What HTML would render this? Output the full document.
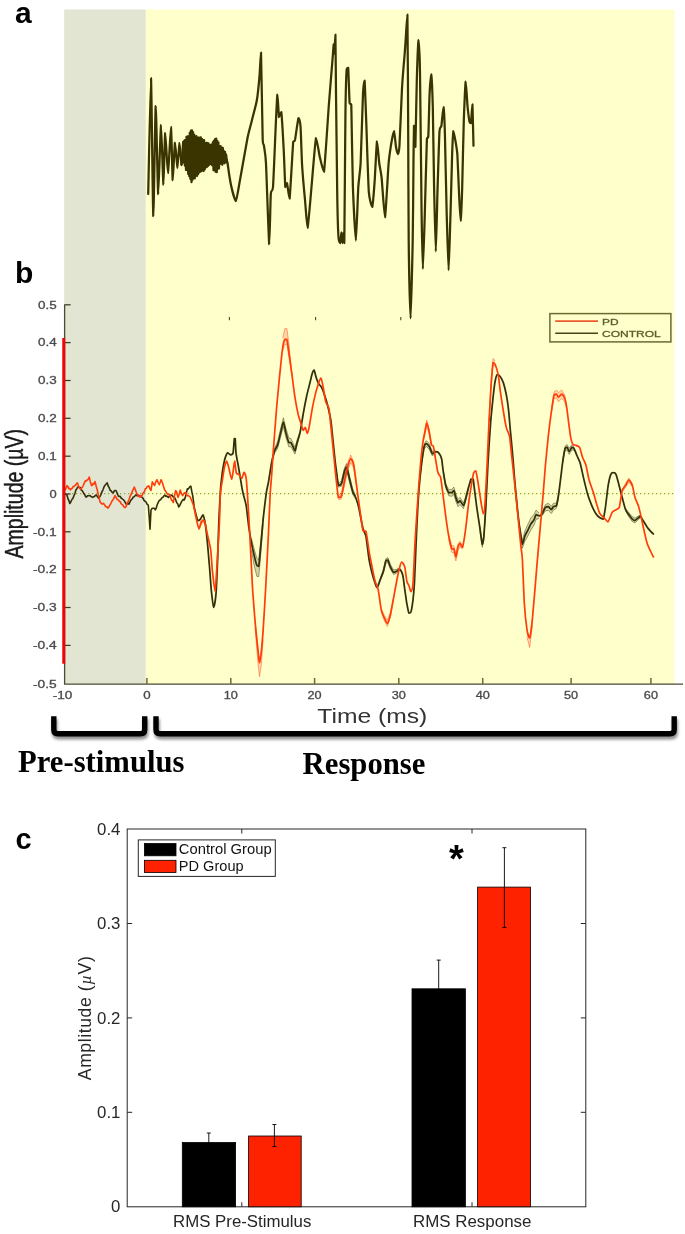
<!DOCTYPE html><html><head><meta charset="utf-8"><title>Figure</title>
<style>html,body{margin:0;padding:0;background:#fff}svg{display:block}text{font-family:"Liberation Sans",sans-serif}.ser{font-family:"Liberation Serif",serif;font-weight:bold}</style></head><body>
<svg width="685" height="1234" viewBox="0 0 685 1234" style="opacity:0.999">
<defs><filter id="sh" x="-5%" y="-30%" width="110%" height="180%"><feGaussianBlur in="SourceAlpha" stdDeviation="1.6"/><feOffset dx="1" dy="2.5" result="b"/><feComponentTransfer in="b" result="s"><feFuncA type="linear" slope="0.45"/></feComponentTransfer><feMerge><feMergeNode in="s"/><feMergeNode in="SourceGraphic"/></feMerge></filter></defs>
<rect width="685" height="1234" fill="#fff"/>
<rect x="64.2" y="9.5" width="81.6" height="674.3" fill="#e1e5d1"/>
<rect x="145.8" y="9.5" width="528.7" height="674.3" fill="#ffffcc"/>
<text x="15" y="23.2" font-size="30" font-weight="bold" fill="#000">a</text>
<text x="15" y="282.6" font-size="30" font-weight="bold" fill="#000">b</text>
<text x="15.5" y="849" font-size="29" font-weight="bold" fill="#000">c</text>
<path d="M148.2 194.0C148.5 182.4 150.5 78.0 151.0 78.0C151.5 80.2 152.8 213.2 153.3 216.0C153.8 216.0 155.2 108.2 155.7 106.0C156.2 106.0 157.7 192.1 158.2 194.0C158.7 194.0 160.5 125.9 161.0 125.0C161.5 125.0 163.0 183.8 163.4 184.6C163.8 184.6 164.7 134.2 165.2 133.0C165.7 133.0 167.4 173.0 168.0 173.0C168.6 172.4 170.5 127.0 171.0 127.0C171.5 127.7 172.3 178.4 172.7 180.0C173.1 180.0 174.5 143.7 175.0 142.5C175.5 142.5 177.0 167.9 177.4 168.0C177.8 168.0 179.1 143.3 179.5 143.0C179.9 143.0 181.3 162.8 181.5 165.0" fill="none" stroke="#3a3400" stroke-width="2.25" stroke-linejoin="round" stroke-linecap="round"/>
<polyline points="181.5,165.0 183.2,141.9 183.8,162.6 184.3,140.7 184.9,165.6 185.4,139.9 186.0,170.1 186.5,136.8 187.1,170.0 187.6,136.4 188.2,174.1 188.7,136.1 189.3,176.3 189.8,132.6 190.4,179.0 190.9,130.6 191.5,182.2 192.0,130.4 192.6,179.7 193.1,132.2 193.7,178.0 194.2,134.5 194.8,178.4 195.3,136.4 195.9,175.2 196.4,136.2 197.0,176.1 197.5,137.9 198.1,174.2 198.6,137.5 199.2,172.4 199.7,137.8 200.3,171.7 200.8,137.3 201.4,171.2 201.9,138.8 202.5,169.7 203.0,141.4 203.6,171.1 204.1,140.0 204.7,169.4 205.2,143.3 205.8,167.5 206.3,142.8 206.9,167.0 207.4,143.0 208.0,166.0 208.5,143.3 209.1,164.8 209.6,144.9 210.2,163.4 210.7,144.9 211.3,164.5 211.8,144.4 212.4,165.4 212.9,142.2 213.5,170.3 214.0,140.6 214.6,170.3 215.1,139.2 215.7,171.8 216.2,138.6 216.8,172.2 217.3,140.9 217.9,168.8 218.4,142.3 219.0,168.4 219.5,146.2 220.1,164.0 220.6,146.2 221.2,163.4 221.7,147.7 222.3,164.8 222.8,147.8 223.4,162.2 223.9,151.1 224.5,163.3 225.0,151.9 225.6,162.1 226.1,154.4 226.7,159.6 227.6,163.5" fill="none" stroke="#3a3400" stroke-width="2.25" stroke-linejoin="round"/>
<path d="M227.6 163.5C227.9 165.7 230.2 181.2 231.0 185.0C231.8 188.8 234.9 201.0 235.8 201.0C236.7 200.5 238.8 186.3 240.0 180.0C241.2 173.7 246.3 144.0 247.5 138.0C248.7 132.0 251.1 123.8 252.0 120.0C252.9 116.2 256.0 105.0 256.8 100.5C257.6 96.0 259.2 79.6 259.6 74.8C260.0 70.0 260.7 52.6 261.0 52.6C261.3 59.1 262.4 130.7 262.7 140.0C263.0 146.0 263.7 143.7 264.0 146.0C264.3 148.3 265.5 153.7 266.0 163.5C266.5 173.3 268.7 240.9 269.2 244.0C269.7 244.0 270.4 199.7 270.8 194.0C271.2 188.3 272.5 193.3 273.0 187.0C273.5 180.7 275.1 140.2 275.5 131.0C275.9 121.8 277.0 96.0 277.4 94.6C277.8 94.6 278.6 115.3 279.0 117.0C279.4 117.0 280.8 112.0 281.3 112.0C281.8 115.2 283.3 142.0 283.7 149.5C284.1 157.0 285.0 183.7 285.3 187.0C285.6 187.0 286.6 183.0 287.0 183.0C287.4 184.2 289.0 198.6 289.6 198.6C290.2 194.5 292.7 147.9 293.2 142.0C293.7 140.0 294.5 142.0 295.0 140.0C295.5 137.6 297.9 119.4 298.5 118.0C299.1 118.0 300.1 121.5 300.5 126.0C300.9 130.6 301.6 156.1 302.0 163.5C302.4 170.9 304.4 193.6 305.0 200.0C305.6 206.4 307.0 227.8 307.6 227.8C308.2 226.5 310.7 196.0 311.5 187.0C312.3 178.0 315.2 141.1 316.0 138.0C316.8 138.0 318.9 153.1 319.7 156.5C320.5 159.9 323.1 171.7 324.0 171.7C324.9 166.3 328.1 114.3 329.0 103.0C329.9 91.7 332.1 64.3 332.6 58.4C333.1 52.5 333.5 44.9 333.7 44.4C333.9 44.4 334.2 53.7 334.4 53.7C334.6 52.7 335.2 34.6 335.4 34.6C335.6 38.6 335.8 77.8 336.0 93.5C336.2 109.2 337.0 177.3 337.2 191.6C337.4 205.8 338.1 230.9 338.4 236.0C338.7 241.1 340.0 243.0 340.3 243.0C340.6 242.7 341.2 232.5 341.4 232.5C341.6 232.5 342.4 243.0 342.6 243.0C342.8 243.0 343.3 232.5 343.5 232.5C343.7 232.5 344.1 243.0 344.3 243.0C344.5 231.4 345.2 134.1 345.4 116.8C345.6 99.5 346.3 74.9 346.6 70.0C346.9 67.8 347.9 67.8 348.2 67.8C348.5 71.1 349.3 99.1 349.6 102.8C349.9 105.0 351.0 102.8 351.3 105.0C351.6 113.4 352.4 173.4 352.9 187.0C353.4 200.6 355.4 240.6 355.9 240.6C356.4 240.6 357.8 194.7 358.3 187.0C358.8 179.3 360.1 172.8 360.6 163.5C361.1 154.2 362.6 101.8 363.0 93.5C363.4 85.2 364.3 80.6 364.6 80.6C364.9 83.8 366.0 114.9 366.4 126.0C366.8 137.1 368.2 183.5 368.8 191.6C369.4 199.7 371.7 206.8 372.3 206.8C372.9 205.8 374.1 188.5 374.6 182.0C375.1 175.5 376.5 143.2 377.0 141.4C377.5 141.4 378.8 159.9 379.3 163.5C379.8 167.1 381.0 172.2 381.6 177.6C382.2 183.0 384.3 217.3 385.0 217.3C385.7 215.9 388.0 170.7 388.6 163.5C389.2 156.3 390.5 148.2 391.0 145.0C391.5 141.8 393.5 131.0 394.0 131.0C394.5 131.2 395.6 144.7 396.0 147.0C396.4 149.3 397.6 154.0 398.0 154.0C398.4 153.8 399.1 151.6 399.5 145.0C399.9 138.4 401.5 97.5 402.0 88.3C402.5 79.1 404.3 58.1 404.7 53.5C405.1 48.9 405.2 45.9 405.5 42.0C405.8 38.1 407.1 14.7 407.4 14.7C407.7 23.9 408.1 111.2 408.2 133.8C408.3 156.4 408.5 222.3 408.7 240.8C408.9 259.3 410.2 318.4 410.6 318.4C411.0 318.4 412.4 256.6 412.7 240.8C413.0 225.0 413.4 171.5 413.5 160.0C413.6 148.5 413.9 129.2 414.0 125.8C414.1 125.8 414.7 125.8 414.8 125.8C414.9 127.9 415.2 147.0 415.4 147.0C415.6 142.4 416.5 91.0 416.8 80.3C417.1 69.6 418.3 40.9 418.6 40.1C418.9 40.1 419.7 54.8 420.0 72.2C420.3 89.6 421.3 194.3 421.6 214.0C421.9 233.7 422.6 269.0 422.9 269.0C423.2 269.0 424.4 227.0 424.8 214.0C425.2 201.0 426.5 146.8 426.9 139.0C427.2 136.5 428.0 139.0 428.3 136.5C428.6 132.0 429.3 99.8 429.6 93.6C429.9 87.4 430.9 74.4 431.2 74.4C431.5 75.7 432.5 95.7 432.8 107.0C433.1 118.3 433.8 172.9 434.1 187.3C434.4 201.8 435.4 251.5 435.8 251.5C436.2 251.5 437.2 199.3 437.6 187.3C438.0 175.3 439.1 137.2 439.5 131.1C439.9 125.8 441.0 128.2 441.4 125.8C441.8 123.4 443.1 107.0 443.5 107.0C443.9 107.8 444.6 123.1 444.9 133.8C445.2 144.5 446.3 200.4 446.7 214.0C447.1 227.6 448.2 270.2 448.6 270.2C449.0 270.2 450.1 225.5 450.5 214.0C450.9 202.5 451.8 163.5 452.1 155.2C452.4 146.9 453.0 132.3 453.4 131.0C453.8 131.0 455.2 139.4 455.6 141.8C456.0 144.2 457.1 150.1 457.4 155.2C457.7 160.3 458.7 186.0 459.0 192.6C459.3 199.2 460.3 220.7 460.6 220.7C460.9 220.2 461.9 197.3 462.2 187.3C462.5 177.3 463.4 131.0 463.8 120.4C464.2 109.8 465.3 82.9 465.7 81.6C466.1 81.6 467.2 103.0 467.6 107.0C468.0 111.0 469.2 120.1 469.5 121.7C469.8 123.0 470.7 123.0 471.0 123.0C471.3 121.3 472.1 104.3 472.4 104.3C472.6 106.6 473.4 141.7 473.5 145.8" fill="none" stroke="#3a3400" stroke-width="2.25" stroke-linejoin="round" stroke-linecap="round"/>
<line x1="64" y1="493.7" x2="675" y2="493.7" stroke="#94a82c" stroke-width="1.3" stroke-dasharray="1.3 2.7"/>
<polygon points="251.5,538.5 254.2,549.1 256.9,558.4 258.7,559.7 260.4,544.6 263.1,517.4 263.1,524.0 260.4,559.0 258.7,576.6 256.9,576.4 254.2,565.8 251.5,550.4" fill="#33300a" fill-opacity="0.2" stroke="none"/>
<polyline points="251.5,538.5 254.2,549.1 256.9,558.4 258.7,559.7 260.4,544.6 263.1,517.4" fill="none" stroke="#33300a" stroke-opacity="0.5" stroke-width="0.9"/>
<polyline points="251.5,550.4 254.2,565.8 256.9,576.4 258.7,576.6 260.4,559.0 263.1,524.0" fill="none" stroke="#33300a" stroke-opacity="0.5" stroke-width="0.9"/>
<polygon points="271.5,462.3 274.6,448.3 277.7,441.2 280.7,428.3 283.4,417.8 285.8,427.9 288.9,438.2 290.9,438.5 293.0,442.9 295.0,447.5 297.1,440.0 300.1,431.3 300.1,433.5 297.1,445.2 295.0,454.1 293.0,450.5 290.9,446.7 288.9,447.0 285.8,436.9 283.4,426.6 280.7,436.5 277.7,448.2 274.6,453.3 271.5,463.9" fill="#33300a" fill-opacity="0.2" stroke="none"/>
<polyline points="271.5,462.3 274.6,448.3 277.7,441.2 280.7,428.3 283.4,417.8 285.8,427.9 288.9,438.2 290.9,438.5 293.0,442.9 295.0,447.5 297.1,440.0 300.1,431.3" fill="none" stroke="#33300a" stroke-opacity="0.5" stroke-width="0.9"/>
<polyline points="271.5,463.9 274.6,453.3 277.7,448.2 280.7,436.5 283.4,426.6 285.8,436.9 288.9,447.0 290.9,446.7 293.0,450.5 295.0,454.1 297.1,445.2 300.1,433.5" fill="none" stroke="#33300a" stroke-opacity="0.5" stroke-width="0.9"/>
<polygon points="336.4,470.5 338.4,483.6 341.5,480.6 344.5,467.7 346.6,463.5 349.6,475.9 352.7,488.7 355.8,496.0 355.8,499.4 352.7,494.3 349.6,482.7 346.6,470.5 344.5,474.5 341.5,486.2 338.4,487.2 336.4,471.7" fill="#33300a" fill-opacity="0.2" stroke="none"/>
<polyline points="336.4,470.5 338.4,483.6 341.5,480.6 344.5,467.7 346.6,463.5 349.6,475.9 352.7,488.7 355.8,496.0" fill="none" stroke="#33300a" stroke-opacity="0.5" stroke-width="0.9"/>
<polyline points="336.4,471.7 338.4,487.2 341.5,486.2 344.5,474.5 346.6,470.5 349.6,482.7 352.7,494.3 355.8,499.4" fill="none" stroke="#33300a" stroke-opacity="0.5" stroke-width="0.9"/>
<polygon points="380.3,578.2 383.4,569.3 385.8,558.7 387.9,557.6 390.5,564.6 393.6,570.0 396.6,569.3 399.7,568.0 399.7,570.4 396.6,573.1 393.6,574.6 390.5,569.6 387.9,562.4 385.8,563.3 383.4,573.1 380.3,580.6" fill="#33300a" fill-opacity="0.2" stroke="none"/>
<polyline points="380.3,578.2 383.4,569.3 385.8,558.7 387.9,557.6 390.5,564.6 393.6,570.0 396.6,569.3 399.7,568.0" fill="none" stroke="#33300a" stroke-opacity="0.5" stroke-width="0.9"/>
<polyline points="380.3,580.6 383.4,573.1 385.8,563.3 387.9,562.4 390.5,569.6 393.6,574.6 396.6,573.1 399.7,570.4" fill="none" stroke="#33300a" stroke-opacity="0.5" stroke-width="0.9"/>
<polygon points="420.1,476.9 422.2,457.0 424.2,444.1 426.3,440.6 429.3,443.7 432.4,451.4 435.5,451.0 435.5,452.4 432.4,456.0 429.3,449.5 426.3,446.4 424.2,449.1 422.2,460.6 420.1,477.5" fill="#33300a" fill-opacity="0.2" stroke="none"/>
<polyline points="420.1,476.9 422.2,457.0 424.2,444.1 426.3,440.6 429.3,443.7 432.4,451.4 435.5,451.0" fill="none" stroke="#33300a" stroke-opacity="0.5" stroke-width="0.9"/>
<polyline points="420.1,477.5 422.2,460.6 424.2,449.1 426.3,446.4 429.3,449.5 432.4,456.0 435.5,452.4" fill="none" stroke="#33300a" stroke-opacity="0.5" stroke-width="0.9"/>
<polygon points="443.2,470.1 445.7,483.4 448.8,489.8 451.8,489.3 453.9,487.1 455.9,494.2 458.0,499.4 460.0,497.4 463.5,502.8 465.5,497.1 468.6,486.1 468.6,488.5 465.5,502.0 463.5,508.6 460.0,504.5 458.0,506.7 455.9,501.7 453.9,494.4 451.8,496.3 448.8,495.8 445.7,487.7 443.2,472.3" fill="#33300a" fill-opacity="0.2" stroke="none"/>
<polyline points="443.2,470.1 445.7,483.4 448.8,489.8 451.8,489.3 453.9,487.1 455.9,494.2 458.0,499.4 460.0,497.4 463.5,502.8 465.5,497.1 468.6,486.1" fill="none" stroke="#33300a" stroke-opacity="0.5" stroke-width="0.9"/>
<polyline points="443.2,472.3 445.7,487.7 448.8,495.8 451.8,496.3 453.9,494.4 455.9,501.7 458.0,506.7 460.0,504.5 463.5,508.6 465.5,502.0 468.6,488.5" fill="none" stroke="#33300a" stroke-opacity="0.5" stroke-width="0.9"/>
<polygon points="479.9,526.4 482.3,542.4 483.9,534.5 486.0,503.5 486.0,503.5 483.9,538.7 482.3,547.4 479.9,530.4" fill="#33300a" fill-opacity="0.2" stroke="none"/>
<polyline points="479.9,526.4 482.3,542.4 483.9,534.5 486.0,503.5" fill="none" stroke="#33300a" stroke-opacity="0.5" stroke-width="0.9"/>
<polyline points="479.9,530.4 482.3,547.4 483.9,538.7 486.0,503.5" fill="none" stroke="#33300a" stroke-opacity="0.5" stroke-width="0.9"/>
<polygon points="519.7,526.5 522.4,540.6 524.8,531.2 527.9,524.3 530.9,517.9 534.0,514.4 536.1,510.1 539.1,513.1 539.1,518.5 536.1,519.3 534.0,525.2 530.9,529.9 527.9,535.9 524.8,541.2 522.4,548.2 519.7,529.5" fill="#33300a" fill-opacity="0.2" stroke="none"/>
<polyline points="519.7,526.5 522.4,540.6 524.8,531.2 527.9,524.3 530.9,517.9 534.0,514.4 536.1,510.1 539.1,513.1" fill="none" stroke="#33300a" stroke-opacity="0.5" stroke-width="0.9"/>
<polyline points="519.7,529.5 522.4,548.2 524.8,541.2 527.9,535.9 530.9,529.9 534.0,525.2 536.1,519.3 539.1,518.5" fill="none" stroke="#33300a" stroke-opacity="0.5" stroke-width="0.9"/>
<polygon points="542.2,511.9 545.3,504.7 548.3,503.2 551.4,506.2 553.4,503.4 556.5,503.1 558.5,493.8 558.5,497.0 556.5,508.2 553.4,510.3 551.4,513.5 548.3,510.5 545.3,510.9 542.2,515.8" fill="#33300a" fill-opacity="0.2" stroke="none"/>
<polyline points="542.2,511.9 545.3,504.7 548.3,503.2 551.4,506.2 553.4,503.4 556.5,503.1 558.5,493.8" fill="none" stroke="#33300a" stroke-opacity="0.5" stroke-width="0.9"/>
<polyline points="542.2,515.8 545.3,510.9 548.3,510.5 551.4,513.5 553.4,510.3 556.5,508.2 558.5,497.0" fill="none" stroke="#33300a" stroke-opacity="0.5" stroke-width="0.9"/>
<polygon points="562.6,461.7 565.1,446.0 567.1,444.5 569.2,448.4 571.8,444.7 573.9,446.4 573.9,450.2 571.8,449.9 569.2,454.4 567.1,450.1 565.1,450.6 562.6,463.5" fill="#33300a" fill-opacity="0.2" stroke="none"/>
<polyline points="562.6,461.7 565.1,446.0 567.1,444.5 569.2,448.4 571.8,444.7 573.9,446.4" fill="none" stroke="#33300a" stroke-opacity="0.5" stroke-width="0.9"/>
<polyline points="562.6,463.5 565.1,450.6 567.1,450.1 569.2,454.4 571.8,449.9 573.9,450.2" fill="none" stroke="#33300a" stroke-opacity="0.5" stroke-width="0.9"/>
<polygon points="625.6,508.5 629.1,513.0 632.3,516.6 635.0,518.1 638.3,516.0 640.4,515.2 640.4,517.6 638.3,519.6 635.0,522.9 632.3,521.6 629.1,517.2 625.6,510.9" fill="#33300a" fill-opacity="0.2" stroke="none"/>
<polyline points="625.6,508.5 629.1,513.0 632.3,516.6 635.0,518.1 638.3,516.0 640.4,515.2" fill="none" stroke="#33300a" stroke-opacity="0.5" stroke-width="0.9"/>
<polyline points="625.6,510.9 629.1,517.2 632.3,521.6 635.0,522.9 638.3,519.6 640.4,517.6" fill="none" stroke="#33300a" stroke-opacity="0.5" stroke-width="0.9"/>
<polygon points="255.1,621.6 257.8,648.3 259.5,662.6 261.3,651.9 263.1,630.5 263.1,639.9 261.3,664.8 259.5,676.6 257.8,661.3 255.1,628.5" fill="#ff3c0a" fill-opacity="0.2" stroke="none"/>
<polyline points="255.1,621.6 257.8,648.3 259.5,662.6 261.3,651.9 263.1,630.5" fill="none" stroke="#ff3c0a" stroke-opacity="0.5" stroke-width="0.9"/>
<polyline points="255.1,628.5 257.8,661.3 259.5,676.6 261.3,664.8 263.1,639.9" fill="none" stroke="#ff3c0a" stroke-opacity="0.5" stroke-width="0.9"/>
<polygon points="282.8,338.0 284.8,328.7 286.9,328.6 288.9,343.6 292.0,375.2 292.0,375.2 288.9,356.8 286.9,344.3 284.8,344.3 282.8,350.5" fill="#ff3c0a" fill-opacity="0.2" stroke="none"/>
<polyline points="282.8,338.0 284.8,328.7 286.9,328.6 288.9,343.6 292.0,375.2" fill="none" stroke="#ff3c0a" stroke-opacity="0.5" stroke-width="0.9"/>
<polyline points="282.8,350.5 284.8,344.3 286.9,344.3 288.9,356.8 292.0,375.2" fill="none" stroke="#ff3c0a" stroke-opacity="0.5" stroke-width="0.9"/>
<polygon points="338.4,495.6 341.5,492.4 344.5,477.5 347.6,463.0 350.7,455.1 353.7,462.1 356.8,486.0 356.8,488.8 353.7,467.9 350.7,462.5 347.6,471.0 344.5,485.1 341.5,498.8 338.4,499.8" fill="#ff3c0a" fill-opacity="0.2" stroke="none"/>
<polyline points="338.4,495.6 341.5,492.4 344.5,477.5 347.6,463.0 350.7,455.1 353.7,462.1 356.8,486.0" fill="none" stroke="#ff3c0a" stroke-opacity="0.5" stroke-width="0.9"/>
<polyline points="338.4,499.8 341.5,498.8 344.5,485.1 347.6,471.0 350.7,462.5 353.7,467.9 356.8,488.8" fill="none" stroke="#ff3c0a" stroke-opacity="0.5" stroke-width="0.9"/>
<polygon points="381.3,608.7 384.4,615.5 387.4,620.4 390.5,611.8 393.6,597.1 393.6,598.5 390.5,616.6 387.4,626.4 384.4,620.9 381.3,611.5" fill="#ff3c0a" fill-opacity="0.2" stroke="none"/>
<polyline points="381.3,608.7 384.4,615.5 387.4,620.4 390.5,611.8 393.6,597.1" fill="none" stroke="#ff3c0a" stroke-opacity="0.5" stroke-width="0.9"/>
<polyline points="381.3,611.5 384.4,620.9 387.4,626.4 390.5,616.6 393.6,598.5" fill="none" stroke="#ff3c0a" stroke-opacity="0.5" stroke-width="0.9"/>
<polygon points="423.2,438.8 425.3,427.5 426.7,420.1 429.3,429.8 431.4,443.4 431.4,445.6 429.3,434.8 426.7,426.1 425.3,432.9 423.2,442.0" fill="#ff3c0a" fill-opacity="0.2" stroke="none"/>
<polyline points="423.2,438.8 425.3,427.5 426.7,420.1 429.3,429.8 431.4,443.4" fill="none" stroke="#ff3c0a" stroke-opacity="0.5" stroke-width="0.9"/>
<polyline points="423.2,442.0 425.3,432.9 426.7,426.1 429.3,434.8 431.4,445.6" fill="none" stroke="#ff3c0a" stroke-opacity="0.5" stroke-width="0.9"/>
<polygon points="448.8,534.6 451.8,546.1 453.9,545.8 455.9,553.9 458.0,543.9 460.0,541.3 462.5,546.1 462.5,549.2 460.0,546.7 458.0,550.4 455.9,560.9 453.9,552.8 451.8,552.4 448.8,539.0" fill="#ff3c0a" fill-opacity="0.2" stroke="none"/>
<polyline points="448.8,534.6 451.8,546.1 453.9,545.8 455.9,553.9 458.0,543.9 460.0,541.3 462.5,546.1" fill="none" stroke="#ff3c0a" stroke-opacity="0.5" stroke-width="0.9"/>
<polyline points="448.8,539.0 451.8,552.4 453.9,552.8 455.9,560.9 458.0,550.4 460.0,546.7 462.5,549.2" fill="none" stroke="#ff3c0a" stroke-opacity="0.5" stroke-width="0.9"/>
<polygon points="489.0,421.8 491.1,381.9 493.1,358.5 495.2,360.9 495.2,366.3 493.1,364.5 491.1,386.6 489.0,421.8" fill="#ff3c0a" fill-opacity="0.2" stroke="none"/>
<polyline points="489.0,421.8 491.1,381.9 493.1,358.5 495.2,360.9" fill="none" stroke="#ff3c0a" stroke-opacity="0.5" stroke-width="0.9"/>
<polyline points="489.0,421.8 491.1,386.6 493.1,364.5 495.2,366.3" fill="none" stroke="#ff3c0a" stroke-opacity="0.5" stroke-width="0.9"/>
<polygon points="527.0,629.9 529.7,638.0 532.4,619.0 532.4,625.5 529.7,647.5 527.0,637.2" fill="#ff3c0a" fill-opacity="0.2" stroke="none"/>
<polyline points="527.0,629.9 529.7,638.0 532.4,619.0" fill="none" stroke="#ff3c0a" stroke-opacity="0.5" stroke-width="0.9"/>
<polyline points="527.0,637.2 529.7,647.5 532.4,625.5" fill="none" stroke="#ff3c0a" stroke-opacity="0.5" stroke-width="0.9"/>
<polygon points="551.4,410.6 554.0,392.1 556.5,390.1 558.5,392.7 561.6,389.9 564.7,395.0 566.7,405.5 566.7,409.3 564.7,401.4 561.6,398.5 558.5,401.7 556.5,398.3 554.0,398.3 551.4,412.4" fill="#ff3c0a" fill-opacity="0.2" stroke="none"/>
<polyline points="551.4,410.6 554.0,392.1 556.5,390.1 558.5,392.7 561.6,389.9 564.7,395.0 566.7,405.5" fill="none" stroke="#ff3c0a" stroke-opacity="0.5" stroke-width="0.9"/>
<polyline points="551.4,412.4 554.0,398.3 556.5,398.3 558.5,401.7 561.6,398.5 564.7,401.4 566.7,409.3" fill="none" stroke="#ff3c0a" stroke-opacity="0.5" stroke-width="0.9"/>
<polygon points="199.0,527.7 201.4,519.8 204.4,519.1 204.4,522.1 201.4,523.8 199.0,529.9" fill="#ff3c0a" fill-opacity="0.2" stroke="none"/>
<polyline points="199.0,527.7 201.4,519.8 204.4,519.1" fill="none" stroke="#ff3c0a" stroke-opacity="0.5" stroke-width="0.9"/>
<polyline points="199.0,529.9 201.4,523.8 204.4,522.1" fill="none" stroke="#ff3c0a" stroke-opacity="0.5" stroke-width="0.9"/>
<polygon points="622.1,489.6 625.6,483.5 628.8,478.1 632.3,484.3 632.3,486.5 628.8,481.9 625.6,487.3 622.1,492.0" fill="#ff3c0a" fill-opacity="0.2" stroke="none"/>
<polyline points="622.1,489.6 625.6,483.5 628.8,478.1 632.3,484.3" fill="none" stroke="#ff3c0a" stroke-opacity="0.5" stroke-width="0.9"/>
<polyline points="622.1,492.0 625.6,487.3 628.8,481.9 632.3,486.5" fill="none" stroke="#ff3c0a" stroke-opacity="0.5" stroke-width="0.9"/>
<polyline points="64.7,493.7 65.8,494.3 67.0,495.0 67.9,498.6 68.9,500.6 69.8,503.5 70.8,502.0 71.9,499.5 72.9,498.4 73.9,495.9 74.9,493.5 75.9,489.9 76.8,488.7 77.8,487.1 78.7,486.9 79.6,487.9 80.5,487.6 81.3,490.2 82.2,490.5 83.1,492.2 84.0,493.9 84.8,494.8 85.7,496.9 86.6,497.0 87.5,495.8 88.3,495.7 89.2,495.8 90.1,495.5 91.0,496.5 91.8,496.8 92.7,497.4 93.6,496.7 94.5,496.4 95.3,495.5 96.2,495.1 97.4,496.6 98.6,498.2 99.7,497.0 100.9,494.6 102.0,491.6 103.0,489.8 103.9,487.2 104.9,485.4 106.1,484.0 107.2,482.9 108.2,486.0 109.2,487.7 110.2,490.4 111.2,490.8 112.3,492.6 113.3,492.9 114.2,490.9 115.1,490.5 116.0,490.5 117.2,493.0 118.4,496.3 119.3,496.4 120.2,496.4 121.1,498.0 122.0,498.6 123.1,499.5 124.3,500.7 125.4,502.9 126.3,504.2 127.2,504.1 128.1,503.3 129.0,504.1 130.1,501.6 131.3,499.6 132.4,498.6 133.3,497.0 134.2,496.8 135.1,495.8 136.0,494.8 137.1,495.8 138.3,495.0 139.4,496.1 140.3,495.9 141.2,497.1 142.1,497.3 143.0,498.2 144.0,500.4 145.0,501.3 146.0,501.9 147.2,504.4 148.3,505.2 149.2,516.9 150.0,529.1 151.0,510.1 152.2,508.2 153.5,508.2 154.4,508.4 155.3,509.8 156.2,508.2 157.1,505.0 158.0,502.9 158.9,501.1 159.8,500.0 160.7,499.7 161.6,498.2 162.7,497.4 163.9,495.9 165.0,495.0 165.9,496.4 166.8,496.1 167.7,496.8 168.6,497.5 169.7,495.9 170.9,495.1 172.0,495.3 172.9,496.7 173.8,496.8 174.8,497.9 175.7,499.8 176.7,502.7 177.7,503.7 178.7,506.9 179.6,505.8 180.6,503.7 181.5,501.9 182.4,500.4 183.2,499.4 184.1,500.1 185.0,498.2 186.2,494.1 187.3,488.8 188.2,488.9 189.1,487.8 189.9,486.6 190.8,486.1 191.8,491.5 192.7,495.7 193.5,501.4 194.3,507.8" fill="none" stroke="#33300a" stroke-width="1.6" stroke-linejoin="round" stroke-linecap="round"/>
<path d="M194.3 507.8C194.7 509.3 197.1 519.3 197.8 520.6C198.5 520.6 199.6 520.1 200.2 519.4C200.8 518.7 202.4 514.8 203.0 514.8C203.6 515.3 204.8 521.0 205.3 524.0C205.8 527.0 206.7 535.4 207.2 540.5C207.7 545.6 209.1 562.1 209.6 568.0C210.1 573.9 210.9 586.7 211.4 591.3C211.9 595.9 213.2 606.9 213.7 607.3C214.2 607.3 215.4 600.4 215.9 594.8C216.4 589.2 217.3 567.5 217.6 559.2C217.9 550.9 218.5 531.6 218.8 523.5C219.1 515.4 220.2 495.1 220.5 490.0C220.8 484.9 221.2 482.3 221.5 479.4C221.8 476.5 223.0 467.7 223.5 465.1C224.0 462.5 225.0 458.3 225.5 456.9C226.0 455.5 227.0 453.0 227.6 452.8C228.2 452.8 230.1 454.9 230.7 454.9C231.3 454.9 232.7 454.7 233.1 452.8C233.5 450.9 234.1 440.2 234.3 438.5C234.5 438.5 235.0 438.5 235.2 438.5C235.4 440.2 235.7 449.9 236.0 452.8C236.3 455.7 237.3 460.5 237.8 463.1C238.3 465.7 239.4 472.4 239.9 475.3C240.4 478.2 241.5 485.3 241.9 487.6C242.3 489.9 243.0 492.9 243.5 495.0C244.0 497.1 245.6 502.0 246.2 505.7C246.8 509.4 248.2 522.6 248.8 527.0C249.4 531.4 250.9 539.8 251.5 543.1C252.1 546.4 253.6 553.0 254.2 555.6C254.8 558.2 256.4 564.2 256.9 565.4C257.4 566.3 258.3 566.3 258.7 566.3C259.1 564.5 259.9 555.6 260.4 550.2C260.9 544.8 262.6 525.4 263.1 520.0C263.6 514.6 264.5 507.2 264.9 503.9C265.3 500.6 266.1 494.2 266.5 491.6C266.9 489.0 267.9 485.3 268.5 482.0C269.1 478.7 270.8 466.7 271.5 463.1C272.2 459.5 273.9 452.9 274.6 450.8C275.3 448.7 277.0 446.8 277.7 444.7C278.4 442.6 280.0 435.0 280.7 432.4C281.4 429.8 282.8 422.2 283.4 422.2C284.0 422.2 285.2 430.0 285.8 432.4C286.4 434.8 288.3 441.4 288.9 442.6C289.5 442.6 290.4 442.6 290.9 442.6C291.4 443.1 292.5 445.7 293.0 446.7C293.5 447.7 294.5 450.8 295.0 450.8C295.5 450.3 296.5 444.7 297.1 442.6C297.7 440.5 299.4 435.7 300.1 432.4C300.8 429.1 302.5 418.0 303.2 414.0C303.9 410.0 305.6 401.0 306.3 397.7C307.0 394.4 308.6 388.1 309.3 385.4C310.0 382.7 311.5 376.0 312.0 374.2C312.5 372.4 313.5 370.0 314.0 370.0C314.5 370.4 315.6 375.6 316.1 377.2C316.6 378.8 317.9 382.2 318.5 383.4C319.1 384.6 320.9 386.0 321.6 387.4C322.3 388.8 324.0 393.5 324.7 395.6C325.4 397.7 327.0 402.9 327.7 405.8C328.4 408.7 330.2 416.3 330.8 420.1C331.4 423.9 332.3 434.0 332.8 438.5C333.3 443.0 334.5 455.2 334.9 459.0C335.3 462.8 336.0 468.0 336.4 471.1C336.8 474.2 337.8 484.0 338.4 485.4C339.0 485.4 340.8 485.1 341.5 483.4C342.2 481.7 343.9 473.0 344.5 471.1C345.1 469.2 346.0 467.0 346.6 467.0C347.2 468.0 348.9 476.4 349.6 479.3C350.3 482.2 352.0 489.4 352.7 491.5C353.4 493.6 355.1 495.8 355.8 497.7C356.5 499.6 358.0 504.3 358.8 507.9C359.6 511.5 362.1 525.0 362.9 528.3C363.7 531.6 365.3 532.9 366.0 536.5C366.7 540.1 368.3 554.7 369.0 559.0C369.7 563.3 371.4 570.4 372.1 573.3C372.8 576.2 374.6 581.8 375.2 583.5C375.8 585.2 376.6 587.6 377.2 587.6C377.8 587.1 379.6 581.3 380.3 579.4C381.0 577.5 382.8 573.3 383.4 571.2C384.0 569.1 385.3 562.3 385.8 561.0C386.3 560.0 387.4 560.0 387.9 560.0C388.4 560.7 389.8 565.7 390.5 567.1C391.2 568.5 392.9 571.8 393.6 572.3C394.3 572.3 395.9 571.6 396.6 571.2C397.3 570.8 399.0 569.2 399.7 569.2C400.4 569.7 402.2 572.9 402.8 575.3C403.4 577.7 404.3 586.3 404.8 589.6C405.3 592.9 406.4 601.2 406.9 603.9C407.4 606.6 408.4 612.1 408.9 613.1C409.4 613.1 410.4 613.1 410.9 612.1C411.4 610.5 412.6 603.1 413.0 599.8C413.4 596.5 414.0 590.2 414.4 583.5C414.8 576.8 415.7 552.1 416.1 542.6C416.5 533.1 417.6 509.3 418.1 501.7C418.6 494.1 419.6 482.2 420.1 477.2C420.6 472.2 421.7 462.4 422.2 458.8C422.7 455.2 423.7 448.4 424.2 446.6C424.7 444.8 425.7 443.5 426.3 443.5C426.9 443.5 428.6 445.4 429.3 446.6C430.0 447.8 431.7 453.1 432.4 453.7C433.1 453.7 434.8 451.8 435.5 451.7C436.2 451.7 437.8 451.9 438.5 452.7C439.2 453.5 441.1 456.7 441.6 458.8C442.1 460.9 442.7 468.0 443.2 471.1C443.7 474.2 445.0 482.9 445.7 485.4C446.4 487.9 448.1 491.8 448.8 492.6C449.5 492.6 451.2 492.6 451.8 492.6C452.4 492.4 453.4 490.5 453.9 490.5C454.4 491.1 455.4 496.3 455.9 497.7C456.4 499.1 457.5 502.4 458.0 502.8C458.5 502.8 459.4 500.7 460.0 500.7C460.6 501.0 462.9 505.5 463.5 505.5C464.1 505.3 464.9 501.5 465.5 499.4C466.1 497.3 467.9 489.6 468.6 487.2C469.3 484.8 470.6 480.0 471.1 479.0C471.6 479.0 472.7 479.0 473.1 479.0C473.5 480.4 474.3 487.9 474.7 491.2C475.1 494.5 476.2 503.3 476.8 507.6C477.4 511.9 479.3 523.7 479.9 528.0C480.5 532.3 481.8 543.4 482.3 544.4C482.8 544.4 483.5 541.0 483.9 536.2C484.3 531.4 485.5 512.1 486.0 503.5C486.5 494.9 487.5 472.1 488.0 462.6C488.5 453.1 490.1 429.4 490.7 421.8C491.3 414.2 492.6 402.0 493.1 397.2C493.6 392.4 494.7 383.5 495.2 380.9C495.7 378.3 496.6 375.2 497.2 374.7C497.8 374.7 499.6 375.8 500.3 376.8C501.0 377.8 502.7 380.8 503.4 382.9C504.1 385.0 505.8 392.1 506.4 395.2C507.0 398.3 508.0 405.2 508.5 409.5C509.0 413.8 510.0 426.8 510.5 432.0C511.0 437.2 512.1 448.9 512.6 454.4C513.1 459.9 514.1 472.8 514.6 479.0C515.1 485.2 516.7 501.9 517.3 507.6C517.9 513.3 519.1 523.7 519.7 528.0C520.3 532.3 521.8 543.4 522.4 544.4C523.0 544.4 524.2 537.9 524.8 536.2C525.4 534.5 527.2 531.5 527.9 530.1C528.6 528.7 530.2 525.1 530.9 523.9C531.6 522.7 533.4 520.9 534.0 519.8C534.6 518.7 535.5 515.2 536.1 514.7C536.7 514.7 538.4 515.8 539.1 515.8C539.8 515.7 541.5 514.7 542.2 513.7C542.9 512.7 544.6 508.4 545.3 507.6C546.0 506.8 547.6 506.6 548.3 506.6C549.0 506.8 550.8 509.6 551.4 509.6C552.0 509.6 552.8 507.1 553.4 506.6C554.0 506.1 555.9 506.6 556.5 505.5C557.1 504.2 558.0 498.4 558.5 495.3C559.0 492.2 560.1 482.8 560.6 479.0C561.1 475.2 562.1 466.2 562.6 462.6C563.1 459.0 564.6 450.1 565.1 448.3C565.6 447.3 566.6 447.3 567.1 447.3C567.6 447.7 568.7 451.4 569.2 451.4C569.7 451.4 571.3 447.7 571.8 447.3C572.3 447.3 573.3 447.3 573.9 448.3C574.5 449.3 576.2 453.8 576.9 455.5C577.6 457.2 579.2 459.9 580.0 462.6C580.8 465.3 582.8 474.8 583.7 478.6C584.6 482.4 586.9 491.7 587.8 494.8C588.7 497.9 590.9 503.4 591.8 505.6C592.7 507.8 595.0 512.3 595.9 513.7C596.8 515.1 599.0 517.2 599.9 517.8C600.8 518.4 602.6 519.1 603.2 519.1C603.8 518.0 604.7 512.1 605.3 508.3C605.9 504.5 607.4 490.6 608.0 486.7C608.6 482.8 610.1 476.2 610.7 474.6C611.3 473.0 612.8 472.7 613.4 472.7C614.0 472.7 615.4 473.0 616.1 474.6C616.8 476.2 618.6 483.7 619.4 486.7C620.2 489.7 622.2 497.5 622.9 500.2C623.6 502.9 624.9 508.0 625.6 509.7C626.3 511.4 628.3 514.0 629.1 515.1C629.9 516.2 631.6 518.5 632.3 519.1C633.0 519.7 634.3 520.5 635.0 520.5C635.7 520.3 637.7 518.3 638.3 517.8C638.9 517.3 639.8 516.4 640.4 516.4C641.0 516.7 642.3 519.2 643.1 520.5C643.9 521.8 646.3 525.9 647.2 527.2C648.1 528.5 650.0 530.5 650.7 531.3C651.4 532.1 653.1 533.7 653.4 534.0" fill="none" stroke="#33300a" stroke-width="1.75" stroke-linejoin="round" stroke-linecap="round"/>
<polyline points="64.7,490.2 65.8,488.7 67.0,485.7 67.9,486.3 68.8,488.8 69.6,488.4 70.5,489.8 71.4,488.8 72.2,488.3 73.1,486.6 74.0,486.4 74.9,485.5 75.8,485.1 76.6,483.3 77.5,483.1 78.5,486.0 79.6,488.1 80.6,489.1 81.5,488.3 82.5,486.9 83.4,485.3 84.6,482.2 85.7,480.5 86.6,480.9 87.5,479.6 88.3,479.3 89.2,477.0 90.3,481.8 91.5,485.6 92.4,485.2 93.2,483.4 94.1,484.0 95.0,481.6 96.2,486.2 97.4,490.4 98.3,495.0 99.3,498.6 100.2,502.2 101.2,503.2 102.3,504.1 103.4,503.4 104.4,504.5 105.3,506.1 106.2,506.9 107.0,506.7 107.9,508.1 108.9,507.0 110.0,504.8 111.0,503.1 112.0,501.0 113.0,499.7 114.0,498.0 115.0,495.6 116.1,497.5 117.3,499.5 118.4,499.9 119.3,501.3 120.2,501.7 121.1,503.6 122.0,504.4 123.1,505.3 124.3,507.4 125.4,507.4 126.3,506.3 127.2,502.7 128.1,501.9 129.0,499.6 130.2,496.1 131.3,493.9 132.3,491.4 133.3,489.3 134.3,487.1 135.4,489.7 136.6,493.3 137.5,494.4 138.5,496.4 139.4,496.9 140.3,495.7 141.3,496.6 142.2,495.1 143.2,492.9 144.3,491.9 145.3,488.8 146.2,488.5 147.1,486.6 147.9,486.3 148.8,485.9 149.9,488.8 151.0,490.5 152.3,481.9 153.4,484.0 154.6,485.4 155.8,481.8 157.0,479.7 158.2,482.8 159.3,484.7 160.2,482.3 161.0,479.7 161.9,481.4 162.8,484.1 163.8,487.2 164.7,490.0 165.8,491.3 167.0,493.6 167.9,494.4 168.9,494.6 169.8,494.8 170.7,497.7 171.6,500.1 172.4,500.9 173.3,502.6 174.5,495.6 175.7,490.5 176.8,492.7 178.0,497.4 179.2,493.9 180.3,490.0 181.5,493.7 182.7,495.6 183.8,493.5 185.0,492.6 186.0,492.7 187.0,495.6 188.0,495.8 188.9,496.0 189.9,496.6 190.8,498.5 191.7,500.6 192.7,503.4 193.6,505.5" fill="none" stroke="#ff3c0a" stroke-width="1.6" stroke-linejoin="round" stroke-linecap="round"/>
<path d="M193.6 505.5C194.0 507.3 196.1 517.9 196.7 520.6C197.3 523.3 198.5 528.7 199.0 528.8C199.5 528.8 200.8 522.8 201.4 521.8C202.0 520.8 203.7 520.6 204.4 520.6C205.1 522.0 206.5 530.1 207.2 533.5C207.9 536.9 210.1 545.6 210.7 549.8C211.3 554.0 211.8 565.1 212.3 569.9C212.8 574.7 214.5 591.3 215.0 591.3C215.5 591.3 216.2 577.8 216.7 569.9C217.2 562.0 219.0 532.4 219.4 523.5C219.8 514.6 220.0 498.8 220.4 493.7C220.8 488.6 222.0 482.5 222.5 479.4C223.0 476.3 224.0 469.2 224.5 467.1C225.0 465.0 226.1 461.0 226.6 461.0C227.1 461.0 228.0 465.0 228.6 467.1C229.2 469.2 231.1 479.4 231.7 479.4C232.3 479.4 233.3 469.2 233.7 467.1C234.0 465.0 234.4 461.0 234.7 461.0C235.0 461.7 235.9 471.7 236.4 473.3C236.9 474.3 238.2 473.7 238.8 474.3C239.4 474.9 241.3 478.4 241.9 478.4C242.5 478.2 243.4 472.4 243.9 472.3C244.4 472.3 245.6 474.9 246.0 477.4C246.4 479.9 247.0 487.3 247.4 493.7C247.8 500.1 249.1 521.6 249.7 532.4C250.3 543.2 251.8 575.5 252.4 585.9C253.0 596.3 254.5 614.3 255.1 621.6C255.7 628.9 257.3 643.5 257.8 648.3C258.3 653.1 259.1 662.2 259.5 662.6C259.9 662.6 260.9 655.6 261.3 651.9C261.7 648.2 262.6 638.2 263.1 630.5C263.6 622.8 265.2 597.3 265.8 585.9C266.4 574.5 268.0 543.2 268.5 532.4C269.0 521.6 269.8 500.6 270.2 493.7C270.6 486.8 271.4 478.8 271.8 473.3C272.2 467.8 273.0 454.3 273.6 446.7C274.2 439.1 275.9 416.2 276.6 407.9C277.3 399.6 279.0 382.4 279.7 375.2C280.4 368.0 282.2 350.8 282.8 346.6C283.4 342.4 284.3 340.2 284.8 339.4C285.3 339.4 286.4 339.4 286.9 339.4C287.4 341.0 288.3 348.5 288.9 352.7C289.5 356.9 291.3 369.9 292.0 375.2C292.7 380.4 294.3 393.2 295.0 397.7C295.7 402.2 297.4 410.9 298.1 414.0C298.8 417.1 300.6 422.3 301.2 424.2C301.8 426.1 302.7 430.0 303.2 430.4C303.7 430.4 304.8 427.3 305.3 427.3C305.8 427.7 306.8 433.4 307.3 433.4C307.8 433.3 308.7 429.3 309.3 426.3C309.9 423.3 311.7 411.7 312.4 407.9C313.1 404.1 314.8 396.5 315.5 393.6C316.2 390.7 317.9 385.2 318.5 383.4C319.1 381.6 320.4 378.2 321.0 378.2C321.6 378.9 323.1 386.7 323.6 389.5C324.1 392.3 325.1 399.7 325.7 401.8C326.3 403.9 328.3 405.8 328.8 407.9C329.3 410.0 329.8 416.2 330.2 420.0C330.6 423.8 331.7 434.4 332.3 440.4C332.9 446.4 334.6 464.4 335.3 471.1C336.0 477.8 337.7 494.8 338.4 497.7C339.1 497.7 340.8 497.5 341.5 495.6C342.2 493.7 343.8 484.6 344.5 481.3C345.2 478.0 346.9 469.6 347.6 467.0C348.3 464.4 350.0 459.0 350.7 458.8C351.4 458.8 353.0 461.7 353.7 465.0C354.4 468.3 356.1 482.2 356.8 487.4C357.5 492.6 359.2 504.9 359.9 509.9C360.6 514.9 362.2 527.9 362.9 530.4C363.6 531.4 365.3 530.4 366.0 531.4C366.7 533.8 368.3 546.6 369.0 550.8C369.7 555.0 371.4 563.5 372.1 567.1C372.8 570.7 374.5 578.9 375.2 581.5C375.9 584.1 377.5 586.3 378.2 589.6C378.9 592.9 380.6 606.8 381.3 610.1C382.0 613.4 383.7 616.6 384.4 618.2C385.1 619.8 386.7 623.4 387.4 623.4C388.1 622.9 389.8 617.2 390.5 614.2C391.2 611.2 392.9 601.6 393.6 597.8C394.3 594.0 395.9 585.1 396.6 581.5C397.3 577.9 399.1 569.4 399.7 567.1C400.3 564.8 401.2 562.0 401.8 562.0C402.4 562.0 404.2 564.8 404.8 567.1C405.4 569.4 406.4 579.4 406.9 581.5C407.4 583.6 408.4 584.3 408.9 585.5C409.4 586.7 410.4 591.7 410.9 591.7C411.4 591.5 412.5 589.2 413.0 583.5C413.5 577.8 414.5 551.2 415.0 542.6C415.5 534.0 416.6 517.1 417.1 509.9C417.6 502.7 418.6 487.5 419.1 481.3C419.6 475.1 420.7 461.6 421.2 456.8C421.7 452.0 422.7 443.5 423.2 440.4C423.7 437.3 424.9 432.2 425.3 430.2C425.7 428.2 426.2 423.1 426.7 423.1C427.2 423.3 428.8 429.8 429.3 432.3C429.8 434.8 430.9 442.8 431.4 444.5C431.9 446.2 432.9 444.9 433.4 446.6C433.9 448.3 435.0 455.7 435.5 458.8C436.0 461.9 437.5 471.0 438.1 473.1C438.7 475.2 440.1 475.1 440.6 477.2C441.1 479.3 442.0 487.0 442.6 491.5C443.2 496.0 445.0 510.9 445.7 516.1C446.4 521.4 448.1 532.7 448.8 536.5C449.5 540.3 451.2 547.4 451.8 548.8C452.4 548.8 453.4 548.8 453.9 548.8C454.4 549.7 455.4 556.9 455.9 556.9C456.4 556.7 457.5 548.3 458.0 546.7C458.5 545.1 459.5 543.6 460.0 543.6C460.5 543.7 461.9 547.4 462.5 547.4C463.1 545.8 464.8 535.2 465.5 530.1C466.2 525.0 467.9 509.0 468.6 503.5C469.3 498.0 471.1 486.7 471.7 483.1C472.3 479.5 473.2 474.2 473.7 472.8C474.2 471.4 475.3 470.8 475.8 470.8C476.3 471.8 477.2 477.4 477.8 481.0C478.4 484.6 480.3 497.7 480.9 501.5C481.5 505.3 482.8 513.5 483.3 513.7C483.8 513.7 484.6 509.0 485.0 503.5C485.4 498.0 486.5 476.2 487.0 466.7C487.5 457.2 488.5 431.3 489.0 421.8C489.5 412.3 490.6 391.9 491.1 385.0C491.6 378.1 492.6 364.9 493.1 362.5C493.6 362.5 494.6 363.1 495.2 364.5C495.8 365.9 497.6 371.6 498.2 374.7C498.8 377.8 499.7 386.8 500.3 391.1C500.9 395.4 502.7 407.2 503.4 411.5C504.1 415.8 505.7 425.0 506.4 427.9C507.1 430.8 508.9 433.0 509.5 436.1C510.1 439.2 510.9 448.9 511.5 454.4C512.1 459.9 513.9 476.2 514.6 483.1C515.3 490.0 517.0 506.5 517.7 513.7C518.4 520.9 520.2 539.0 520.7 544.4C521.2 549.8 522.0 553.1 522.4 559.9C522.8 566.7 523.8 594.6 524.3 602.8C524.8 611.0 526.4 625.8 527.0 629.9C527.6 634.0 529.1 638.0 529.7 638.0C530.3 636.7 531.6 626.9 532.4 619.0C533.2 611.1 535.6 581.4 536.5 570.4C537.4 559.4 539.7 533.5 540.5 524.5C541.3 515.5 542.6 500.0 543.2 493.3C543.8 486.6 544.7 473.4 545.3 466.7C545.9 460.0 547.6 442.5 548.3 436.1C549.0 429.7 550.7 416.3 551.4 411.5C552.1 406.7 553.4 397.2 554.0 395.2C554.6 394.2 556.0 394.2 556.5 394.2C557.0 394.4 557.9 397.2 558.5 397.2C559.1 397.2 560.9 394.2 561.6 394.2C562.3 394.3 564.1 396.7 564.7 398.2C565.3 399.7 566.2 404.4 566.7 407.4C567.2 410.4 568.3 420.2 568.8 423.8C569.3 427.4 570.3 435.7 570.8 438.1C571.3 440.5 572.2 443.4 572.8 444.2C573.4 445.0 575.1 444.9 575.9 445.3C576.7 445.7 578.9 446.2 579.7 447.6C580.5 449.0 581.7 455.0 582.4 457.0C583.1 459.0 585.1 462.4 585.9 465.1C586.7 467.8 588.2 476.9 589.1 480.0C590.0 483.1 592.3 489.3 593.2 492.1C594.1 494.9 595.9 501.8 596.7 504.3C597.5 506.8 599.0 512.1 599.9 513.7C600.8 515.3 603.1 516.9 604.0 517.8C604.9 518.7 607.1 521.8 608.0 521.8C608.9 521.2 611.2 513.8 612.1 512.4C613.0 511.0 615.2 510.3 616.1 509.7C617.0 509.1 618.7 509.2 619.4 507.0C620.1 504.8 621.4 493.3 622.1 490.8C622.8 488.3 624.8 486.7 625.6 485.4C626.4 484.1 628.0 480.0 628.8 480.0C629.6 480.0 631.6 483.4 632.3 485.4C633.0 487.4 634.3 495.1 635.0 497.5C635.7 499.9 637.6 503.4 638.3 505.6C639.0 507.8 640.3 513.2 641.0 516.4C641.7 519.5 643.8 529.5 644.5 532.6C645.2 535.8 646.5 541.2 647.2 543.4C647.9 545.6 650.0 549.9 650.7 551.5C651.4 553.1 653.1 556.3 653.4 556.9" fill="none" stroke="#ff3c0a" stroke-width="1.7" stroke-linejoin="round" stroke-linecap="round"/>
<path d="M64.6 304.5V684.1H683" fill="none" stroke="#4a4a30" stroke-width="1.3"/>
<line x1="64.6" y1="304.8" x2="70.6" y2="304.8" stroke="#3c3c28" stroke-width="1.25"/>
<text x="56.7" y="308.5" font-size="11" fill="#4a4a4a" stroke="#4a4a4a" stroke-width="0.3" text-anchor="end" textLength="18.7" lengthAdjust="spacingAndGlyphs">0.5</text>
<line x1="64.6" y1="342.6" x2="70.6" y2="342.6" stroke="#3c3c28" stroke-width="1.25"/>
<text x="56.7" y="346.3" font-size="11" fill="#4a4a4a" stroke="#4a4a4a" stroke-width="0.3" text-anchor="end" textLength="18.7" lengthAdjust="spacingAndGlyphs">0.4</text>
<line x1="64.6" y1="380.5" x2="70.6" y2="380.5" stroke="#3c3c28" stroke-width="1.25"/>
<text x="56.7" y="384.2" font-size="11" fill="#4a4a4a" stroke="#4a4a4a" stroke-width="0.3" text-anchor="end" textLength="18.7" lengthAdjust="spacingAndGlyphs">0.3</text>
<line x1="64.6" y1="418.3" x2="70.6" y2="418.3" stroke="#3c3c28" stroke-width="1.25"/>
<text x="56.7" y="422.0" font-size="11" fill="#4a4a4a" stroke="#4a4a4a" stroke-width="0.3" text-anchor="end" textLength="18.7" lengthAdjust="spacingAndGlyphs">0.2</text>
<line x1="64.6" y1="456.2" x2="70.6" y2="456.2" stroke="#3c3c28" stroke-width="1.25"/>
<text x="56.7" y="459.9" font-size="11" fill="#4a4a4a" stroke="#4a4a4a" stroke-width="0.3" text-anchor="end" textLength="18.7" lengthAdjust="spacingAndGlyphs">0.1</text>
<line x1="64.6" y1="494.0" x2="70.6" y2="494.0" stroke="#3c3c28" stroke-width="1.25"/>
<text x="56.7" y="497.7" font-size="11" fill="#4a4a4a" stroke="#4a4a4a" stroke-width="0.3" text-anchor="end" textLength="7.2" lengthAdjust="spacingAndGlyphs">0</text>
<line x1="64.6" y1="531.8" x2="70.6" y2="531.8" stroke="#3c3c28" stroke-width="1.25"/>
<text x="56.7" y="535.5" font-size="11" fill="#4a4a4a" stroke="#4a4a4a" stroke-width="0.3" text-anchor="end" textLength="23.8" lengthAdjust="spacingAndGlyphs">-0.1</text>
<line x1="64.6" y1="569.7" x2="70.6" y2="569.7" stroke="#3c3c28" stroke-width="1.25"/>
<text x="56.7" y="573.4" font-size="11" fill="#4a4a4a" stroke="#4a4a4a" stroke-width="0.3" text-anchor="end" textLength="23.8" lengthAdjust="spacingAndGlyphs">-0.2</text>
<line x1="64.6" y1="607.5" x2="70.6" y2="607.5" stroke="#3c3c28" stroke-width="1.25"/>
<text x="56.7" y="611.2" font-size="11" fill="#4a4a4a" stroke="#4a4a4a" stroke-width="0.3" text-anchor="end" textLength="23.8" lengthAdjust="spacingAndGlyphs">-0.3</text>
<line x1="64.6" y1="645.4" x2="70.6" y2="645.4" stroke="#3c3c28" stroke-width="1.25"/>
<text x="56.7" y="649.1" font-size="11" fill="#4a4a4a" stroke="#4a4a4a" stroke-width="0.3" text-anchor="end" textLength="23.8" lengthAdjust="spacingAndGlyphs">-0.4</text>
<text x="56.7" y="687.9" font-size="11" fill="#4a4a4a" stroke="#4a4a4a" stroke-width="0.3" text-anchor="end" textLength="23.8" lengthAdjust="spacingAndGlyphs">-0.5</text>
<line x1="63.75" y1="338" x2="63.75" y2="663.7" stroke="#f20505" stroke-width="3"/>
<text x="62.6" y="699" font-size="10.4" fill="#4a4a4a" stroke="#4a4a4a" stroke-width="0.3" text-anchor="middle" textLength="19.6" lengthAdjust="spacingAndGlyphs">-10</text>
<line x1="146.9" y1="678" x2="146.9" y2="684" stroke="#6e6a2c" stroke-width="1.5"/>
<text x="146.9" y="699" font-size="10.4" fill="#4a4a4a" stroke="#4a4a4a" stroke-width="0.3" text-anchor="middle" textLength="7.4" lengthAdjust="spacingAndGlyphs">0</text>
<line x1="230.8" y1="678" x2="230.8" y2="684" stroke="#6e6a2c" stroke-width="1.5"/>
<text x="230.8" y="699" font-size="10.4" fill="#4a4a4a" stroke="#4a4a4a" stroke-width="0.3" text-anchor="middle" textLength="14.1" lengthAdjust="spacingAndGlyphs">10</text>
<line x1="314.6" y1="678" x2="314.6" y2="684" stroke="#6e6a2c" stroke-width="1.5"/>
<text x="314.6" y="699" font-size="10.4" fill="#4a4a4a" stroke="#4a4a4a" stroke-width="0.3" text-anchor="middle" textLength="14.1" lengthAdjust="spacingAndGlyphs">20</text>
<line x1="398.8" y1="678" x2="398.8" y2="684" stroke="#6e6a2c" stroke-width="1.5"/>
<text x="398.8" y="699" font-size="10.4" fill="#4a4a4a" stroke="#4a4a4a" stroke-width="0.3" text-anchor="middle" textLength="14.1" lengthAdjust="spacingAndGlyphs">30</text>
<line x1="482.7" y1="678" x2="482.7" y2="684" stroke="#6e6a2c" stroke-width="1.5"/>
<text x="482.7" y="699" font-size="10.4" fill="#4a4a4a" stroke="#4a4a4a" stroke-width="0.3" text-anchor="middle" textLength="14.1" lengthAdjust="spacingAndGlyphs">40</text>
<line x1="571.1" y1="678" x2="571.1" y2="684" stroke="#6e6a2c" stroke-width="1.5"/>
<text x="571.1" y="699" font-size="10.4" fill="#4a4a4a" stroke="#4a4a4a" stroke-width="0.3" text-anchor="middle" textLength="14.1" lengthAdjust="spacingAndGlyphs">50</text>
<line x1="650.9" y1="678" x2="650.9" y2="684" stroke="#6e6a2c" stroke-width="1.5"/>
<text x="650.9" y="699" font-size="10.4" fill="#4a4a4a" stroke="#4a4a4a" stroke-width="0.3" text-anchor="middle" textLength="14.1" lengthAdjust="spacingAndGlyphs">60</text>
<line x1="229.4" y1="317" x2="229.4" y2="320.2" stroke="#4a4a30" stroke-width="1.1"/>
<line x1="315.6" y1="317" x2="315.6" y2="320.2" stroke="#4a4a30" stroke-width="1.1"/>
<line x1="400.8" y1="317" x2="400.8" y2="320.2" stroke="#4a4a30" stroke-width="1.1"/>
<text x="372.3" y="722.8" font-size="19.4" fill="#333" text-anchor="middle" textLength="110" lengthAdjust="spacingAndGlyphs">Time (ms)</text>
<text transform="translate(22.6,493.7) rotate(-90) scale(1,1.27)" font-size="20" fill="#1a1a1a" stroke="#1a1a1a" stroke-width="0.35" text-anchor="middle" textLength="129.5" lengthAdjust="spacingAndGlyphs">Amplitude (µV)</text>
<rect x="549.9" y="313.6" width="121" height="28.3" fill="#ffffcc" stroke="#6b6a33" stroke-width="1.5"/>
<line x1="555.2" y1="321.1" x2="598" y2="321.1" stroke="#ee5a30" stroke-width="1.6"/>
<line x1="555.2" y1="333.3" x2="598" y2="333.3" stroke="#46441c" stroke-width="1.6"/>
<text x="602" y="324.6" font-size="9.2" fill="#5f5d2a" stroke="#5f5d2a" stroke-width="0.3" textLength="16.6" lengthAdjust="spacingAndGlyphs">PD</text>
<text x="602" y="337.3" font-size="9.2" fill="#5f5d2a" stroke="#5f5d2a" stroke-width="0.3" textLength="58.8" lengthAdjust="spacingAndGlyphs">CONTROL</text>
<g filter="url(#sh)" fill="none" stroke="#000" stroke-width="5.4" stroke-linejoin="round">
<path d="M53.8 716.3V729.5Q53.8 733.8 58 733.8H140.5Q144.7 733.8 144.7 729.5V716.3"/>
<path d="M156 716.3V729.5Q156 733.8 160.2 733.8H670Q674.2 733.8 674.2 729.5V716.3"/>
</g>
<text class="ser" x="18" y="772" font-size="30.7" fill="#000">Pre-stimulus</text>
<text class="ser" x="302.6" y="774.3" font-size="30.7" fill="#000">Response</text>
<rect x="127.2" y="829.0" width="458.6" height="377.8" fill="#fff" stroke="#262626" stroke-width="1"/>
<text x="120.4" y="1212.4" font-size="16.8" fill="#262626" text-anchor="end">0</text>
<line x1="127.2" y1="1112.3" x2="132.2" y2="1112.3" stroke="#262626" stroke-width="1"/>
<line x1="585.8" y1="1112.3" x2="580.8" y2="1112.3" stroke="#262626" stroke-width="1"/>
<text x="120.4" y="1117.9" font-size="16.8" fill="#262626" text-anchor="end">0.1</text>
<line x1="127.2" y1="1017.9" x2="132.2" y2="1017.9" stroke="#262626" stroke-width="1"/>
<line x1="585.8" y1="1017.9" x2="580.8" y2="1017.9" stroke="#262626" stroke-width="1"/>
<text x="120.4" y="1023.5" font-size="16.8" fill="#262626" text-anchor="end">0.2</text>
<line x1="127.2" y1="923.5" x2="132.2" y2="923.5" stroke="#262626" stroke-width="1"/>
<line x1="585.8" y1="923.5" x2="580.8" y2="923.5" stroke="#262626" stroke-width="1"/>
<text x="120.4" y="929.1" font-size="16.8" fill="#262626" text-anchor="end">0.3</text>
<text x="120.4" y="834.6" font-size="16.8" fill="#262626" text-anchor="end">0.4</text>
<line x1="241.8" y1="829.0" x2="241.8" y2="833.5" stroke="#262626" stroke-width="1"/>
<line x1="241.8" y1="1206.8" x2="241.8" y2="1202.3" stroke="#262626" stroke-width="1"/>
<line x1="472.0" y1="829.0" x2="472.0" y2="833.5" stroke="#262626" stroke-width="1"/>
<line x1="472.0" y1="1206.8" x2="472.0" y2="1202.3" stroke="#262626" stroke-width="1"/>
<rect x="182.3" y="1142.5" width="53.3" height="64.3" fill="#000" stroke="#000" stroke-width="0.8"/>
<rect x="248.6" y="1136.0" width="52.6" height="70.8" fill="#ff2200" stroke="#000" stroke-width="0.8"/>
<rect x="412.0" y="988.8" width="53.4" height="218.0" fill="#000" stroke="#000" stroke-width="0.8"/>
<rect x="477.6" y="887.1" width="53.0" height="319.7" fill="#ff2200" stroke="#000" stroke-width="0.8"/>
<path d="M208.8 1133.0V1152.0M206.8 1133.0H210.8M206.8 1152.0H210.8" stroke="#000" stroke-width="0.9" fill="none"/>
<path d="M274.4 1124.5V1146.5M272.4 1124.5H276.4M272.4 1146.5H276.4" stroke="#000" stroke-width="0.9" fill="none"/>
<path d="M438.7 960.1V1017.0M436.7 960.1H440.7M436.7 1017.0H440.7" stroke="#000" stroke-width="0.9" fill="none"/>
<path d="M504.4 847.7V927.4M502.4 847.7H506.4M502.4 927.4H506.4" stroke="#000" stroke-width="0.9" fill="none"/>
<rect x="138.3" y="839.9" width="137" height="36.5" fill="#fff" stroke="#262626" stroke-width="1"/>
<rect x="144.4" y="843.5" width="31.6" height="12.3" fill="#000" stroke="#000" stroke-width="0.8"/>
<rect x="144.4" y="860.3" width="31.6" height="12.3" fill="#ff2200" stroke="#000" stroke-width="0.8"/>
<text x="178.8" y="854.3" font-size="14.8" fill="#111" textLength="92.8" lengthAdjust="spacingAndGlyphs">Control Group</text>
<text x="178.8" y="870.7" font-size="14.8" fill="#111" textLength="64.8" lengthAdjust="spacingAndGlyphs">PD Group</text>
<text x="456.4" y="872.4" font-size="38" font-weight="bold" fill="#000" text-anchor="middle">*</text>
<text x="242.2" y="1227" font-size="16.8" fill="#262626" text-anchor="middle" textLength="138.3" lengthAdjust="spacingAndGlyphs">RMS Pre-Stimulus</text>
<text x="472.2" y="1227" font-size="16.8" fill="#262626" text-anchor="middle" textLength="118.4" lengthAdjust="spacingAndGlyphs">RMS Response</text>
<text transform="translate(90.5,1018.2) rotate(-90)" font-size="17.6" fill="#262626" text-anchor="middle" textLength="124" lengthAdjust="spacing">Amplitude (<tspan font-style="italic" font-family="Liberation Serif" font-size="17">µ</tspan>V)</text>
</svg></body></html>
